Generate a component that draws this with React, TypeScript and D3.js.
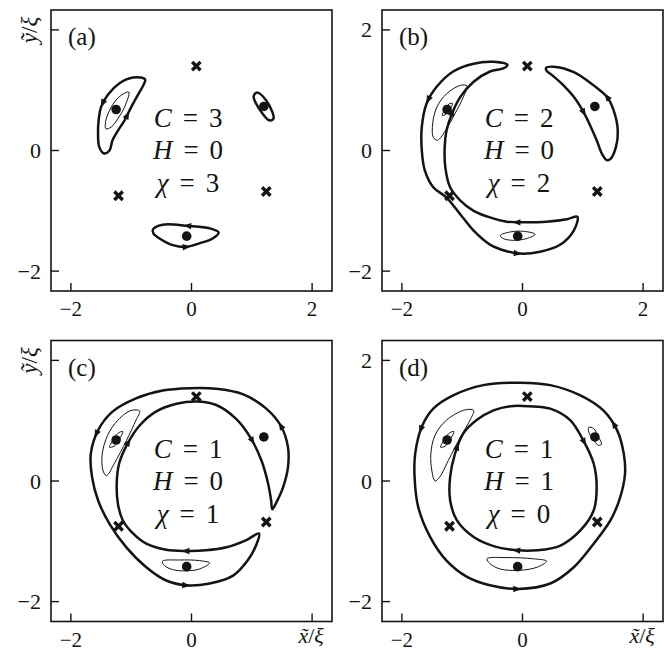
import React, { useEffect, useRef } from "react";
import * as d3 from "d3";

type Pt = [number, number];

const TICKS = [-2, 0, 2];
const DOMAIN: [number, number] = [-2.33, 2.33];
const SIZE = 281;

// Fixed points shared by all panels
const sinks: Pt[] = [[-1.25, 0.68], [1.2, 0.73], [-0.08, -1.42]];
const saddles: Pt[] = [[0.08, 1.4], [-1.21, -0.75], [1.24, -0.68]];

// (a) C = 3
const aLeftOrbit: Pt[] = [[-0.77, 1.18], [-0.97, 1.21], [-1.2, 1.11], [-1.39, 0.92], [-1.5, 0.72], [-1.54, 0.5], [-1.55, 0.28], [-1.53, 0.06], [-1.45, -0.05], [-1.36, 0.0], [-1.31, 0.17], [-1.22, 0.33], [-1.11, 0.5], [-1.0, 0.72], [-0.89, 0.92], [-0.8, 1.08]];
const aLeftInner: Pt[] = [[-1.04, 0.97], [-1.2, 0.89], [-1.33, 0.72], [-1.42, 0.5], [-1.42, 0.36], [-1.33, 0.39], [-1.22, 0.53], [-1.11, 0.72]];
const aRightOrbit: Pt[] = [[1.05, 0.94], [1.1, 0.96], [1.24, 0.83], [1.34, 0.64], [1.36, 0.53], [1.29, 0.5], [1.18, 0.61], [1.07, 0.78], [1.03, 0.89]];
const aBottomOrbit: Pt[] = [[0.45, -1.36], [0.3, -1.29], [-0.06, -1.25], [-0.48, -1.23], [-0.64, -1.31], [-0.63, -1.38], [-0.53, -1.46], [-0.31, -1.57], [-0.09, -1.6], [0.13, -1.54], [0.35, -1.46]];
const aArrows: Pt[] = [[-1.46, 0.78], [-1.08, 0.58], [-0.06, -1.25], [-0.09, -1.6]];

// (b) C = 2
const bLeftOrbit: Pt[] = [[-0.25, 1.42], [-0.48, 1.47], [-0.81, 1.44], [-1.15, 1.31], [-1.42, 1.06], [-1.59, 0.78], [-1.67, 0.39], [-1.67, 0.0], [-1.62, -0.33], [-1.48, -0.61], [-1.26, -0.78], [-1.03, -1.06], [-0.81, -1.33], [-0.54, -1.56], [-0.26, -1.67], [-0.04, -1.71], [0.29, -1.68], [0.63, -1.56], [0.85, -1.33], [0.91, -1.1], [0.74, -1.14], [0.4, -1.18], [0.07, -1.19], [-0.26, -1.18], [-0.54, -1.11], [-0.81, -1.0], [-1.03, -0.83], [-1.2, -0.61], [-1.28, -0.28], [-1.29, 0.06], [-1.26, 0.33], [-1.17, 0.61], [-1.03, 0.89], [-0.81, 1.14], [-0.54, 1.31], [-0.32, 1.36]];
const bRightOrbit: Pt[] = [[0.39, 1.37], [0.4, 1.32], [0.49, 1.25], [0.68, 1.08], [0.85, 0.89], [1.01, 0.64], [1.12, 0.42], [1.23, 0.17], [1.32, -0.06], [1.4, -0.16], [1.46, -0.14], [1.55, 0.06], [1.58, 0.33], [1.51, 0.67], [1.4, 0.89], [1.18, 1.08], [0.85, 1.3], [0.51, 1.39]];
const bLeftInner: Pt[] = [[-0.92, 1.07], [-1.03, 1.08], [-1.26, 0.94], [-1.42, 0.72], [-1.49, 0.44], [-1.48, 0.22], [-1.41, 0.17], [-1.26, 0.36], [-1.12, 0.61], [-0.98, 0.89]];
const bBottomInner: Pt[] = [[-0.37, -1.41], [-0.2, -1.35], [0.02, -1.34], [0.21, -1.39], [0.07, -1.46], [-0.15, -1.49], [-0.32, -1.46]];
const bDotLoop: Pt[] = [[-1.16, 0.78], [-1.22, 0.77], [-1.31, 0.64], [-1.33, 0.58], [-1.27, 0.6], [-1.19, 0.71]];
const bArrows: Pt[] = [[-1.53, 0.83], [-1.06, 0.58], [-0.09, -1.19], [-0.09, -1.71], [1.4, 0.88], [1.01, 0.64]];

// (c) C = 1, H = 0
const cBigOrbit: Pt[] = [[1.12, -0.87], [0.91, -0.98], [0.58, -1.1], [0.24, -1.15], [-0.09, -1.16], [-0.42, -1.14], [-0.75, -1.04], [-0.97, -0.87], [-1.14, -0.65], [-1.22, -0.38], [-1.24, -0.04], [-1.2, 0.29], [-1.06, 0.62], [-0.86, 0.92], [-0.59, 1.15], [-0.25, 1.28], [0.08, 1.32], [0.41, 1.26], [0.74, 1.03], [0.99, 0.7], [1.16, 0.34], [1.27, -0.04], [1.32, -0.32], [1.34, -0.47], [1.41, -0.35], [1.52, -0.1], [1.6, 0.23], [1.6, 0.56], [1.49, 0.9], [1.24, 1.2], [0.85, 1.44], [0.41, 1.53], [-0.03, 1.54], [-0.48, 1.5], [-0.92, 1.37], [-1.31, 1.15], [-1.55, 0.84], [-1.67, 0.45], [-1.65, 0.07], [-1.55, -0.32], [-1.36, -0.71], [-1.08, -1.1], [-0.75, -1.43], [-0.42, -1.65], [-0.09, -1.73], [0.3, -1.7], [0.69, -1.57], [0.93, -1.32], [1.07, -1.07]];
const cLeftInner: Pt[] = [[-0.86, 1.16], [-1.0, 1.17], [-1.22, 1.01], [-1.39, 0.76], [-1.48, 0.45], [-1.47, 0.18], [-1.41, 0.09], [-1.28, 0.29], [-1.08, 0.67], [-0.92, 1.01]];
const cBottomInner: Pt[] = [[-0.48, -1.33], [-0.2, -1.31], [0.13, -1.32], [0.3, -1.36], [0.13, -1.46], [-0.09, -1.49], [-0.31, -1.47], [-0.45, -1.4]];
const cDotLoop: Pt[] = [[-1.14, 0.82], [-1.22, 0.79], [-1.33, 0.63], [-1.36, 0.56], [-1.28, 0.58], [-1.18, 0.72]];
const cArrows: Pt[] = [[-1.58, 0.79], [1.46, 0.9], [-0.09, -1.73], [-1.03, 0.62], [1.02, 0.67], [-0.09, -1.16]];

// (d) C = 1, H = 1
const dOuterOrbit: Pt[] = [[-0.04, 1.63], [-0.65, 1.59], [-1.15, 1.42], [-1.48, 1.2], [-1.67, 0.9], [-1.78, 0.45], [-1.79, 0.07], [-1.73, -0.43], [-1.53, -0.93], [-1.26, -1.32], [-0.92, -1.59], [-0.54, -1.73], [-0.07, -1.79], [0.46, -1.7], [0.85, -1.43], [1.18, -1.04], [1.46, -0.65], [1.62, -0.27], [1.7, 0.12], [1.68, 0.45], [1.57, 0.84], [1.34, 1.17], [0.96, 1.42], [0.46, 1.59]];
const dInnerOrbit: Pt[] = [[0.1, 1.24], [0.46, 1.2], [0.79, 1.01], [1.01, 0.67], [1.18, 0.29], [1.23, -0.1], [1.18, -0.49], [0.96, -0.82], [0.63, -1.07], [0.24, -1.15], [-0.09, -1.15], [-0.48, -1.08], [-0.81, -0.93], [-1.09, -0.65], [-1.2, -0.32], [-1.2, 0.07], [-1.12, 0.45], [-0.98, 0.79], [-0.76, 1.01], [-0.48, 1.17], [-0.2, 1.24]];
const dLeftInner: Pt[] = [[-0.81, 1.17], [-0.95, 1.18], [-1.26, 1.01], [-1.45, 0.76], [-1.52, 0.45], [-1.5, 0.15], [-1.45, 0.0], [-1.37, 0.07], [-1.23, 0.34], [-1.03, 0.73], [-0.87, 1.01]];
const dBottomInner: Pt[] = [[-0.59, -1.29], [-0.26, -1.27], [0.18, -1.29], [0.4, -1.33], [0.24, -1.43], [-0.04, -1.48], [-0.37, -1.46], [-0.54, -1.37]];
const dRightLoop: Pt[] = [[1.1, 0.89], [1.18, 0.87], [1.26, 0.73], [1.31, 0.61], [1.26, 0.59], [1.17, 0.69], [1.1, 0.81]];
const dDotLoop: Pt[] = [[-1.14, 0.82], [-1.22, 0.79], [-1.33, 0.63], [-1.36, 0.56], [-1.28, 0.58], [-1.18, 0.72]];
const dArrows: Pt[] = [[-1.64, 0.84], [1.48, 0.92], [-0.09, -1.79], [-1.01, 0.54], [0.98, 0.62], [-0.09, -1.15]];

interface Curve { pts: Pt[]; thick: boolean }
interface Panel {
  tag: string;
  left: number;
  top: number;
  C: number;
  H: number;
  chi: number;
  curves: Curve[];
  arrows: Pt[];
  yTitle: boolean;
  xTitle: boolean;
}

const panels: Panel[] = [
  {
    tag: "(a)", left: 51, top: 10, C: 3, H: 0, chi: 3, yTitle: true, xTitle: false,
    curves: [
      { pts: aLeftOrbit, thick: true }, { pts: aRightOrbit, thick: true }, { pts: aBottomOrbit, thick: true },
      { pts: aLeftInner, thick: false },
    ],
    arrows: aArrows,
  },
  {
    tag: "(b)", left: 382, top: 10, C: 2, H: 0, chi: 2, yTitle: false, xTitle: false,
    curves: [
      { pts: bLeftOrbit, thick: true }, { pts: bRightOrbit, thick: true },
      { pts: bLeftInner, thick: false }, { pts: bBottomInner, thick: false }, { pts: bDotLoop, thick: false },
    ],
    arrows: bArrows,
  },
  {
    tag: "(c)", left: 51, top: 340.5, C: 1, H: 0, chi: 1, yTitle: true, xTitle: true,
    curves: [
      { pts: cBigOrbit, thick: true },
      { pts: cLeftInner, thick: false }, { pts: cBottomInner, thick: false }, { pts: cDotLoop, thick: false },
    ],
    arrows: cArrows,
  },
  {
    tag: "(d)", left: 382, top: 340.5, C: 1, H: 1, chi: 0, yTitle: false, xTitle: true,
    curves: [
      { pts: dOuterOrbit, thick: true }, { pts: dInnerOrbit, thick: true },
      { pts: dLeftInner, thick: false }, { pts: dBottomInner, thick: false },
      { pts: dRightLoop, thick: false }, { pts: dDotLoop, thick: false },
    ],
    arrows: dArrows,
  },
];

const INK = "#141414";
const FONT = "'Liberation Serif', 'DejaVu Serif', serif";
const fmt = (v: number) => (v < 0 ? "\u2212" + Math.abs(v) : String(v));

function drawPanel(root: d3.Selection<SVGSVGElement, unknown, null, undefined>, p: Panel) {
  const g = root.append("g").attr("transform", `translate(${p.left},${p.top})`);
  const x = d3.scaleLinear().domain(DOMAIN).range([0, SIZE]);
  const y = d3.scaleLinear().domain(DOMAIN).range([SIZE, 0]);
  const line = d3
    .line<Pt>()
    .x((d) => x(d[0]))
    .y((d) => y(d[1]))
    .curve(d3.curveCatmullRomClosed.alpha(0.5));

  // trajectories
  const thickNodes: SVGPathElement[] = [];
  p.curves.forEach((c) => {
    const el = g
      .append("path")
      .attr("d", line(c.pts))
      .attr("fill", "none")
      .attr("stroke", INK)
      .attr("stroke-width", c.thick ? 2.5 : 1)
      .attr("stroke-linejoin", "round");
    if (c.thick) thickNodes.push(el.node() as SVGPathElement);
  });

  // direction arrows, snapped onto the nearest thick trajectory
  p.arrows.forEach((a) => {
    const ax = x(a[0]);
    const ay = y(a[1]);
    let best = { d: Infinity, node: null as SVGPathElement | null, l: 0, L: 1 };
    thickNodes.forEach((node) => {
      const L = node.getTotalLength();
      for (let l = 0; l < L; l += 1) {
        const pt = node.getPointAtLength(l);
        const d = (pt.x - ax) ** 2 + (pt.y - ay) ** 2;
        if (d < best.d) best = { d, node, l, L };
      }
    });
    if (!best.node) return;
    const { node, l, L } = best;
    const c = node.getPointAtLength(l);
    const p0 = node.getPointAtLength((l - 2 + L) % L);
    const p1 = node.getPointAtLength((l + 2) % L);
    const ang = (Math.atan2(p1.y - p0.y, p1.x - p0.x) * 180) / Math.PI;
    g.append("path")
      .attr("d", "M4.5,0 L-3.5,-3.2 L-3.5,3.2 Z")
      .attr("transform", `translate(${c.x},${c.y}) rotate(${ang})`)
      .attr("fill", INK);
  });

  // fixed points
  g.selectAll("circle.sink")
    .data(sinks)
    .join("circle")
    .attr("class", "sink")
    .attr("cx", (d) => x(d[0]))
    .attr("cy", (d) => y(d[1]))
    .attr("r", 4.8)
    .attr("fill", INK);
  g.selectAll("path.saddle")
    .data(saddles)
    .join("path")
    .attr("class", "saddle")
    .attr("d", "M-4.2,-4.2L4.2,4.2M-4.2,4.2L4.2,-4.2")
    .attr("transform", (d) => `translate(${x(d[0])},${y(d[1])})`)
    .attr("stroke", INK)
    .attr("stroke-width", 3.4)
    .attr("fill", "none");

  // frame
  g.append("rect")
    .attr("width", SIZE)
    .attr("height", SIZE)
    .attr("fill", "none")
    .attr("stroke", INK)
    .attr("stroke-width", 1.6);

  // inward ticks on the left and bottom
  TICKS.forEach((t) => {
    g.append("line").attr("x1", x(t)).attr("x2", x(t)).attr("y1", SIZE).attr("y2", SIZE - 8).attr("stroke", INK).attr("stroke-width", 1.4);
    g.append("line").attr("x1", 0).attr("x2", 8).attr("y1", y(t)).attr("y2", y(t)).attr("stroke", INK).attr("stroke-width", 1.4);
  });

  TICKS.forEach((t) => {
    if (!(p.xTitle && t === 2)) {
      g.append("text")
        .attr("x", x(t))
        .attr("y", SIZE + 25)
        .attr("text-anchor", "middle")
        .attr("font-family", FONT)
        .attr("font-size", 21)
        .attr("fill", INK)
        .text(fmt(t));
    }
    if (!(p.yTitle && t === 2)) {
      g.append("text")
        .attr("x", -10)
        .attr("y", y(t) + 7.5)
        .attr("text-anchor", "end")
        .attr("font-family", FONT)
        .attr("font-size", 22)
        .attr("fill", INK)
        .text(fmt(t));
    }
  });

  if (p.xTitle) {
    const tx = g.append("text")
      .attr("x", x(2) - 1)
      .attr("y", SIZE + 21)
      .attr("text-anchor", "middle")
      .attr("font-family", FONT)
      .attr("font-size", 22)
      .attr("fill", INK);
    tx.append("tspan").attr("font-style", "italic").text("x\u0303");
    tx.append("tspan").text("/");
    tx.append("tspan").attr("font-style", "italic").text("\u03BE");
  }
  if (p.yTitle) {
    const ty = g.append("text")
      .attr("transform", `translate(-14,${y(2)}) rotate(-90)`)
      .attr("text-anchor", "middle")
      .attr("font-family", FONT)
      .attr("font-size", 23)
      .attr("fill", INK);
    ty.append("tspan").attr("font-style", "italic").text("\u1EF9");
    ty.append("tspan").text("/");
    ty.append("tspan").attr("font-style", "italic").text("\u03BE");
  }

  // panel tag
  g.append("text")
    .attr("x", 17)
    .attr("y", 35)
    .attr("font-family", FONT)
    .attr("font-size", 25)
    .attr("fill", INK)
    .text(p.tag);

  // invariants
  const rows: [string, number, number][] = [["C", p.C, 117], ["H", p.H, 149], ["\u03C7", p.chi, 182]];
  rows.forEach(([sym, val, by]) => {
    const t = g.append("text")
      .attr("x", 137)
      .attr("y", by)
      .attr("text-anchor", "middle")
      .attr("font-family", FONT)
      .attr("font-size", 27)
      .attr("fill", INK);
    t.append("tspan").attr("font-style", "italic").text(sym);
    t.append("tspan").attr("dx", 11).text("=");
    t.append("tspan").attr("dx", 11).text(String(val));
  });
}

export default function App() {
  const ref = useRef<SVGSVGElement>(null);
  useEffect(() => {
    if (!ref.current) return;
    const svg = d3.select(ref.current);
    svg.selectAll("*").remove();
    panels.forEach((p) => drawPanel(svg, p));
  }, []);
  return (
    <svg
      ref={ref}
      width={668}
      height={651}
      style={{ position: "absolute", left: 0, top: 0, background: "#fff" }}
    />
  );
}
